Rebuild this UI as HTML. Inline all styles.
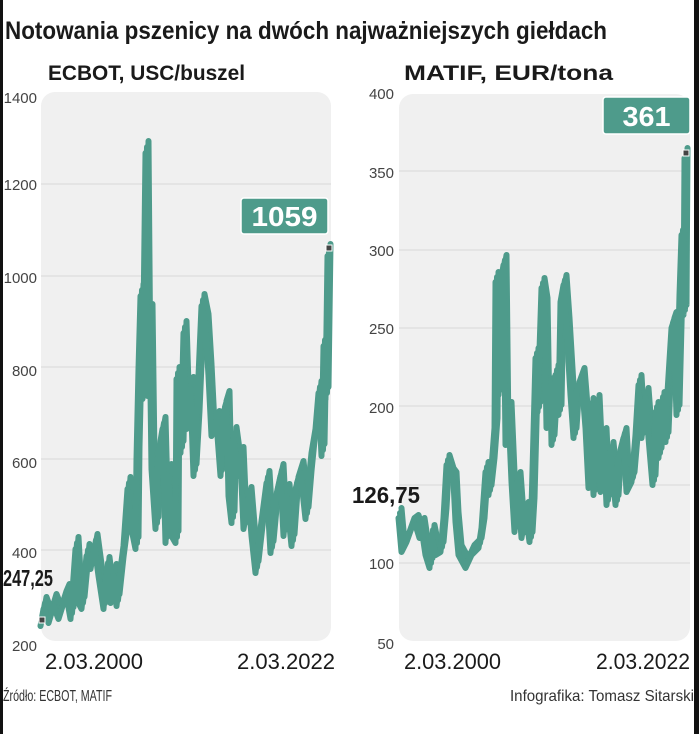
<!DOCTYPE html>
<html><head><meta charset="utf-8"><style>
html,body{margin:0;padding:0;background:#fff;width:699px;height:734px;overflow:hidden}
svg{display:block}
text{font-family:"Liberation Sans Narrow","Liberation Sans",sans-serif}
</style></head><body>
<svg width="699" height="734" viewBox="0 0 699 734" xmlns="http://www.w3.org/2000/svg">
<rect x="0" y="0" width="3" height="734" fill="#111"/>
<rect x="694" y="0" width="5" height="734" fill="#111"/>
<text x="5" y="39" font-size="25" font-weight="bold" fill="#1a1a1a" textLength="602" lengthAdjust="spacingAndGlyphs">Notowania pszenicy na dwóch najważniejszych giełdach</text>
<text x="48" y="80" font-size="21" font-weight="bold" fill="#1a1a1a" textLength="197" lengthAdjust="spacingAndGlyphs">ECBOT, USC/buszel</text>
<text x="404" y="80" font-size="21" font-weight="bold" fill="#1a1a1a" textLength="209" lengthAdjust="spacingAndGlyphs">MATIF, EUR/tona</text>
<rect x="41" y="92" width="290" height="549" rx="14" fill="#f0f0f0"/>
<rect x="399" y="94" width="291" height="547" rx="14" fill="#f0f0f0"/>
<g stroke="#d8d8d8" stroke-width="1">
<line x1="41" x2="331" y1="184" y2="184"/><line x1="41" x2="331" y1="276" y2="276"/><line x1="41" x2="331" y1="367" y2="367"/><line x1="41" x2="331" y1="459" y2="459"/><line x1="41" x2="331" y1="550" y2="550"/>
<line x1="399" x2="690" y1="171" y2="171"/><line x1="399" x2="690" y1="250" y2="250"/><line x1="399" x2="690" y1="328" y2="328"/><line x1="399" x2="690" y1="406" y2="406"/><line x1="399" x2="690" y1="485" y2="485"/><line x1="399" x2="690" y1="563" y2="563"/>
</g>
<g font-size="15" fill="#444" text-anchor="end">
<text x="37" y="103">1400</text><text x="37" y="190">1200</text><text x="37" y="283">1000</text><text x="37" y="376">800</text><text x="37" y="468">600</text><text x="37" y="558">400</text><text x="37" y="651">200</text>
<text x="394" y="99">400</text><text x="394" y="178">350</text><text x="394" y="256">300</text><text x="394" y="334">250</text><text x="394" y="413">200</text><text x="394" y="569">100</text><text x="394" y="649">50</text>
</g>
<defs>
<polyline id="l1" points="42,620 45,603 50,617 55,600 60,613 65,597 68,590 72,613 77,543 80,597 83,603 88,550 92,563 96,540 100,570 105,603 108,563 112,597 115,570 118,600 122,563 125,540 129,483 133,523 137,543 138,453 140,363 142,290 144,393 147,147 149,390 151,310 153,463 157,523 160,447 164,423 167,537 170,470 173,530 177,537 178,373 182,447 185,327 188,423 192,383 195,470 198,417 203,300 207,320 210,370 213,430 218,417 222,470 225,407 228,397 230,490 233,517 235,433 240,470 242,453 245,523 250,493 253,530 257,567 262,523 268,477 272,547 277,493 282,470 285,530 288,490 293,540 297,483 302,467 307,513 310,477 313,447 317,423 320,387 323,450 325,340 327,393 329,250"/>
<polyline id="l2" points="400,513 403,547 408,537 413,523 417,520 421,533 423,523 427,550 431,563 433,530 437,550 442,547 445,513 448,460 452,473 455,477 457,517 460,550 467,563 473,550 480,543 483,523 487,467 490,490 493,463 496,423 497,277 500,390 503,273 505,260 507,440 510,407 513,477 516,527 519,477 523,533 527,507 531,537 533,503 537,353 539,407 543,283 546,303 548,423 552,383 553,440 557,370 560,410 562,297 565,280 568,323 572,390 575,433 578,387 583,373 587,423 590,483 592,403 595,490 598,400 602,487 605,433 608,500 612,447 617,500 620,453 625,433 628,487 633,477 637,430 640,380 643,433 647,393 650,433 654,480 657,407 660,453 663,397 667,437 669,387 673,323 675,317 678,410 681,290 683,230 685,310 686,153"/>
</defs>
<g fill="none" stroke="#4e9b8b" stroke-width="6" stroke-linejoin="round" stroke-linecap="round">
<use href="#l1"/><use href="#l1" transform="translate(1.5,-6)"/><use href="#l1" transform="translate(-1.5,6)"/>
<use href="#l2"/><use href="#l2" transform="translate(1.5,-5)"/><use href="#l2" transform="translate(-1.5,5)"/>
</g>
<rect x="39" y="617" width="6" height="6" fill="#444" stroke="#fff" stroke-width="1"/>
<rect x="326" y="245" width="6" height="6" fill="#444" stroke="#fff" stroke-width="1"/>
<rect x="683" y="150" width="6" height="6" fill="#444" stroke="#fff" stroke-width="1"/>
<rect x="241" y="198" width="87" height="36" rx="3" fill="#4e9b8b" stroke="#fff" stroke-width="1.5"/>
<text x="284.5" y="226" font-size="28" font-weight="bold" fill="#fff" text-anchor="middle" textLength="66" lengthAdjust="spacingAndGlyphs">1059</text>
<rect x="603" y="97" width="87" height="37" rx="3" fill="#4e9b8b" stroke="#fff" stroke-width="1.5"/>
<text x="646.5" y="126" font-size="28" font-weight="bold" fill="#fff" text-anchor="middle" textLength="48" lengthAdjust="spacingAndGlyphs">361</text>
<text x="3" y="586" font-size="23" font-weight="bold" fill="#1a1a1a" textLength="50" lengthAdjust="spacingAndGlyphs">247,25</text>
<text x="352" y="503" font-size="23" font-weight="bold" fill="#1a1a1a" textLength="68" lengthAdjust="spacingAndGlyphs">126,75</text>
<g font-size="22" fill="#1a1a1a">
<text x="45" y="669" textLength="98" lengthAdjust="spacingAndGlyphs">2.03.2000</text>
<text x="237" y="669" textLength="98" lengthAdjust="spacingAndGlyphs">2.03.2022</text>
<text x="404" y="669" textLength="97" lengthAdjust="spacingAndGlyphs">2.03.2000</text>
<text x="596" y="669" textLength="94" lengthAdjust="spacingAndGlyphs">2.03.2022</text>
</g>
<text x="3" y="701" font-size="16" fill="#333" textLength="109" lengthAdjust="spacingAndGlyphs">Źródło: ECBOT, MATIF</text>
<text x="510" y="701" font-size="16" fill="#333" textLength="184" lengthAdjust="spacingAndGlyphs">Infografika: Tomasz Sitarski</text>
</svg>
</body></html>
